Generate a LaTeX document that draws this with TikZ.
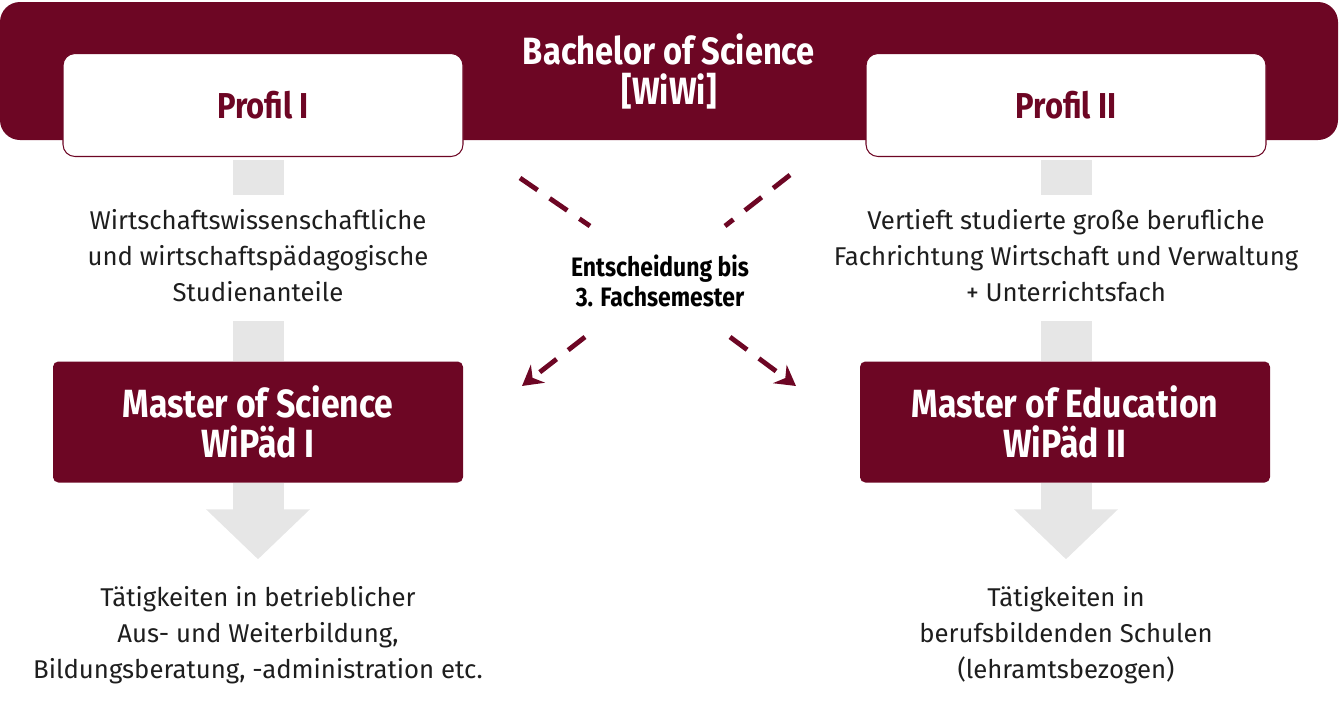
\documentclass[tikz,border=0pt]{standalone}
\usepackage{fontspec}
\setmainfont{Fira Sans}
\newfontfamily\condfont{Fira Sans}[FakeStretch=0.86]
\usepackage{xcolor}
\usetikzlibrary{arrows.meta,positioning}
\definecolor{UniRed}{HTML}{6D0624}
\definecolor{BarGray}{HTML}{E6E6E6}
\definecolor{TextDark}{HTML}{1E1E1E}
\tikzset{
  banner/.style={fill=UniRed,rounded corners=15pt,minimum width=1003.5pt,minimum height=103.5pt,text=white,font=\condfont\bfseries\fontsize{28.5}{30}\selectfont,align=center},
  profilbox/.style={draw=UniRed,line width=0.8pt,fill=white,rounded corners=9pt,minimum width=300pt,minimum height=77.25pt,text=UniRed,font=\condfont\bfseries\fontsize{27}{30}\selectfont},
  masterbox/.style={fill=UniRed,rounded corners=4pt,minimum width=307.5pt,minimum height=90.75pt,text=white,align=center,font=\condfont\bfseries\fontsize{29.5}{30}\selectfont},
  infotext/.style={align=center,inner sep=0pt,text=TextDark,font=\fontsize{19.3}{27}\selectfont},
  decisiontext/.style={align=center,inner sep=0pt,text=black,font=\condfont\bfseries\fontsize{20}{22.5}\selectfont},
  graybar/.style={line width=38.25pt,draw=BarGray},
  grayarrow/.style={graybar,-{Triangle[length=37.5pt,width=75.75pt]}},
  choiceline/.style={draw=UniRed,line width=3.6pt,dash pattern=on 16pt off 11pt},
  choicearrow/.style={choiceline,-{Stealth[length=15pt,width=17pt,inset=5pt]}}
}

\begin{document}
\begin{tikzpicture}[x=0.75pt,y=-0.75pt]
\useasboundingbox (0,0) rectangle (1340,707);
% top banner with the two profiles
\node[banner] (bsc) at (669,71) {Bachelor of Science\\{[WiWi]}};
\node[profilbox] (prof1) at (263,105) {Profil I};
\node[profilbox] (prof2) at (1066,105) {Profil II};
% contents
\node[infotext] (info1) at (258,256) {Wirtschaftswissenschaftliche\\und wirtschaftspädagogische\\Studienanteile};
\node[infotext] (info2) at (1066,256) {Vertieft studierte große berufliche\\Fachrichtung Wirtschaft und Verwaltung\\+ Unterrichtsfach};
\node[decisiontext] (decide) at (660,281) {Entscheidung bis\\3. Fachsemester};
% masters
\node[masterbox] (mast1) at (258,422) {Master of Science\\WiPäd I};
\node[masterbox] (mast2) at (1065,422) {Master of Education\\WiPäd II};
% careers
\node[infotext] (job1) at (258,635) {Tätigkeiten in betrieblicher\\Aus- und Weiterbildung,\\Bildungsberatung, -administration etc.};
\node[infotext] (job2) at (1066,635) {Tätigkeiten in\\berufsbildenden Schulen\\(lehramtsbezogen)};
% gray connectors
\draw[graybar] (info1.north |- prof1.south) -- (info1.north) [shorten <=2.25pt,shorten >=11pt];
\draw[graybar] (info2.north |- prof2.south) -- (info2.north) [shorten <=2.25pt,shorten >=11pt];
\draw[graybar] (info1.south) -- (info1.south |- mast1.north) [shorten <=14pt];
\draw[graybar] (info2.south) -- (info2.south |- mast2.north) [shorten <=14pt];
\draw[grayarrow] (job1.north |- mast1.south) -- (job1.north) [shorten >=20pt];
\draw[grayarrow] (job2.north |- mast2.south) -- (job2.north) [shorten >=20pt];
% decision arrows
\coordinate (ul) at (520,178);
\coordinate (ulin) at (590,226);
\coordinate (ur) at (790,175);
\coordinate (urin) at (725,226);
\coordinate (llin) at (585,337);
\coordinate (ll) at (522,386);
\coordinate (lrin) at (730,337);
\coordinate (lr) at (796,386);
\draw[choiceline] (ul) -- (ulin);
\draw[choiceline] (ur) -- (urin);
\draw[choicearrow] (llin) -- (ll);
\draw[choicearrow] (lrin) -- (lr);
\end{tikzpicture}
\end{document}
